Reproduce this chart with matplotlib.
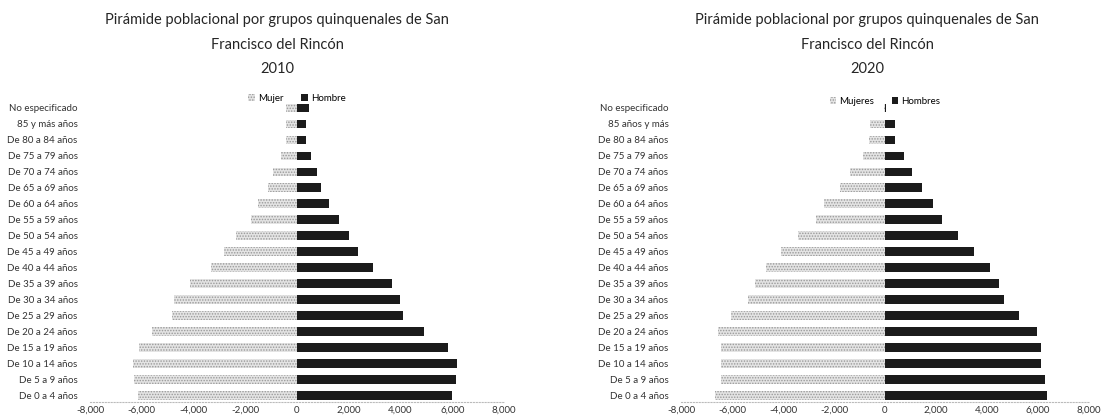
import matplotlib.pyplot as plt
from matplotlib.ticker import FuncFormatter

# grupos de edad, de arriba hacia abajo
grupos_2010 = [
    "No especificado", "85 y más años", "De 80 a 84 años", "De 75 a 79 años",
    "De 70 a 74 años", "De 65 a 69 años", "De 60 a 64 años", "De 55 a 59 años",
    "De 50 a 54 años", "De 45 a 49 años", "De 40 a 44 años", "De 35 a 39 años",
    "De 30 a 34 años", "De 25 a 29 años", "De 20 a 24 años", "De 15 a 19 años",
    "De 10 a 14 años", "De 5 a 9 años", "De 0 a 4 años",
]
grupos_2020 = [
    "No especificado", "85 años y más", "De 80 a 84 años", "De 75 a 79 años",
    "De 70 a 74 años", "De 65 a 69 años", "De 60 a 64 años", "De 55 a 59 años",
    "De 50 a 54 años", "De 45 a 49 años", "De 40 a 44 años", "De 35 a 39 años",
    "De 30 a 34 años", "De 25 a 29 años", "De 20 a 24 años", "De 15 a 19 años",
    "De 10 a 14 años", "De 5 a 9 años", "De 0 a 4 años",
]

mujeres_2010 = [430, 420, 420, 600, 920, 1120, 1500, 1780, 2370, 2830,
                3320, 4140, 4740, 4840, 5590, 6120, 6340, 6300, 6150]
hombres_2010 = [470, 340, 340, 540, 760, 920, 1240, 1640, 2000, 2340,
                2930, 3690, 3990, 4090, 4890, 5830, 6200, 6140, 5990]

mujeres_2020 = [30, 600, 640, 870, 1360, 1760, 2400, 2720, 3400, 4080,
                4680, 5080, 5360, 6040, 6560, 6440, 6440, 6440, 6680]
hombres_2020 = [20, 410, 410, 740, 1040, 1460, 1870, 2220, 2860, 3490,
                4130, 4480, 4670, 5270, 5970, 6120, 6120, 6260, 6370]

ticks = [-8000, -6000, -4000, -2000, 0, 2000, 4000, 6000, 8000]

plt.rcParams["font.family"] = ["Lato", "DejaVu Sans"]
plt.rcParams["hatch.linewidth"] = 0.7


def piramide(ax, grupos, mujeres, hombres, titulo, etiquetas, title_x, leg_y):
    pos = list(range(len(grupos)))
    ax.barh(pos, [-m for m in mujeres], height=0.55, color="#e4e4e4",
            edgecolor="#999999", hatch="......", linewidth=0, label=etiquetas[0])
    ax.barh(pos, hombres, height=0.55, color="#1b1b1b", label=etiquetas[1])
    ax.set_yticks(pos)
    ax.set_yticklabels(grupos, fontsize=7, color="#333333")
    ax.set_ylim(len(grupos) - 0.6, -0.5)
    ax.set_xlim(-8000, 8000)
    ax.set_xticks(ticks)
    ax.xaxis.set_major_formatter(FuncFormatter(lambda v, p: f"{v:,.0f}"))
    ax.tick_params(axis="x", labelsize=7, length=0, pad=3, colors="#333333")
    ax.tick_params(axis="y", length=0, pad=9)
    for s in ["top", "right", "left"]:
        ax.spines[s].set_visible(False)
    ax.spines["bottom"].set_color("#bbbbbb")
    ax.spines["bottom"].set_linestyle(":")
    ax.legend(loc="center", bbox_to_anchor=(0.5, leg_y), ncol=2, frameon=False,
              fontsize=7, handlelength=0.7, handleheight=0.7, handletextpad=0.3,
              columnspacing=1.8, borderaxespad=0)
    fig.text(title_x, 0.968, titulo, ha="center", va="top", fontsize=10.5,
             color="#262626", linespacing=1.95)


fig = plt.figure(figsize=(11.04, 4.17), dpi=100)
ax1 = fig.add_axes([90 / 1104, 15 / 417, 414 / 1104, 302 / 417])
ax2 = fig.add_axes([681 / 1104, 15 / 417, 408 / 1104, 302 / 417])

piramide(ax1, grupos_2010, mujeres_2010, hombres_2010,
         "Pirámide poblacional por grupos quinquenales de San\nFrancisco del Rincón\n2010",
         ["Mujer", "Hombre"], 277 / 1104, 1.005)
piramide(ax2, grupos_2020, mujeres_2020, hombres_2020,
         "Pirámide poblacional por grupos quinquenales de San\nFrancisco del Rincón\n2020",
         ["Mujeres", "Hombres"], 867 / 1104, 0.995)

plt.savefig("out.png", dpi=100)
